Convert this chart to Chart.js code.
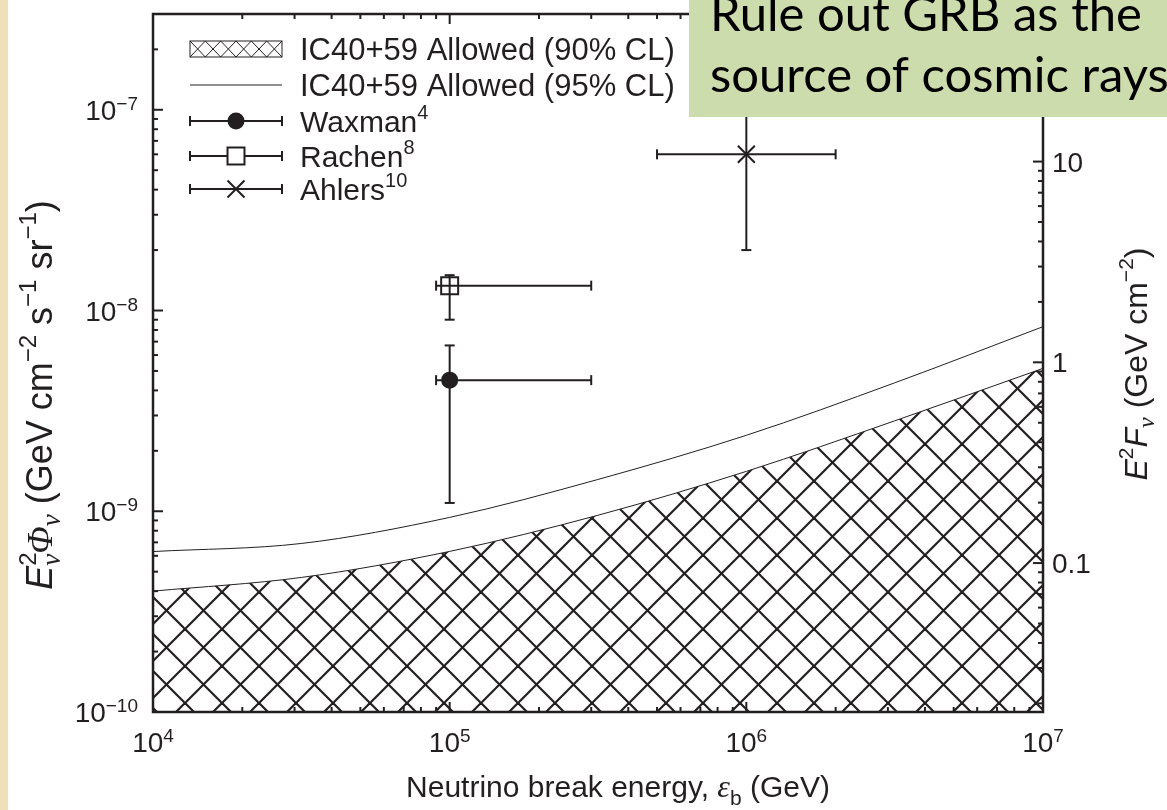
<!DOCTYPE html>
<html>
<head>
<meta charset="utf-8">
<script src="https://cdn.jsdelivr.net/npm/chart.js@4.4.0/dist/chart.umd.min.js"></script>
<style>
  html, body { margin: 0; padding: 0; width: 1167px; height: 810px; overflow: hidden; background: #efe0bc; }
  #paper { position: absolute; left: 8px; top: 0; width: 1159px; height: 810px; background: #fff; }
  #plot { position: absolute; left: 0; top: 0; }
</style>
</head>
<body>
<div id="paper"></div>
<canvas id="plot" width="1167" height="810"></canvas>
<script>
// IceCube limit curves (E^2 Phi, GeV cm^-2 s^-1 sr^-1) vs neutrino break energy (GeV)
const breakEnergy = [1e4, 3.16e4, 1e5, 3.16e5, 1e6, 3.16e6, 1e7];
const allowed90 = [4.0e-10, 4.68e-10, 6.31e-10, 9.55e-10, 1.58e-9, 2.82e-9, 5.15e-9];
const allowed95 = [6.3e-10, 6.91e-10, 9.32e-10, 1.44e-9, 2.39e-9, 4.36e-9, 8.31e-9];

// model predictions with error bars
const models = ['Waxman', 'Rachen', 'Ahlers'];
const modelRefs = ['4', '8', '10'];
const modelE = [1e5, 1e5, 1e6];
const modelELow = [9e4, 9e4, 5e5];
const modelEHigh = [3e5, 3e5, 2e6];
const modelFlux = [4.5e-9, 1.33e-8, 6e-8];
const modelFluxLow = [1.1e-9, 9e-9, 2e-8];
const modelFluxHigh = [6.7e-9, 1.5e-8, 1.8e-7];

// axis ticks
const xTickExp = [4, 5, 6, 7];
const yTickExp = [-10, -9, -8, -7];
const rightTicks = [0.1, 1, 10];
const rightTickLabels = ['0.1', '1', '10'];
const rightPerLeft = 1 / 5.52e-9; // E^2 F scale factor

const ink = '#231f20';
const sans = '"Liberation Sans", Arial, sans-serif';
const serif = '"Liberation Serif", "DejaVu Serif", serif';

// cross-hatch pattern
function hatch(size, lw) {
  const c = document.createElement('canvas');
  c.width = size; c.height = size;
  const g = c.getContext('2d');
  g.strokeStyle = ink; g.lineWidth = lw;
  for (let k = -1; k <= 1; k++) {
    g.beginPath(); g.moveTo(-2, -2 + k * size); g.lineTo(size + 2, size + 2 + k * size); g.stroke();
    g.beginPath(); g.moveTo(-2, size + 2 + k * size); g.lineTo(size + 2, -2 + k * size); g.stroke();
  }
  return c;
}
const ctx = document.getElementById('plot').getContext('2d');
const hatchFill = ctx.createPattern(hatch(37, 2.2), 'repeat');

const markerStyles = [
  { pointStyle: 'circle', pointRadius: 7.5, pointBackgroundColor: ink },
  { pointStyle: 'rect', pointRadius: 12, pointBackgroundColor: 'rgba(0,0,0,0)' },
  { pointStyle: 'crossRot', pointRadius: 12, pointBackgroundColor: ink }
];

const datasets = [];
models.forEach((name, i) => {
  datasets.push(Object.assign({
    type: 'line', label: name, showLine: false,
    data: [{ x: modelE[i], y: modelFlux[i] }],
    pointBorderColor: ink, pointBorderWidth: 2
  }, markerStyles[i]));
});
models.forEach((name, i) => {
  datasets.push({
    type: 'line', label: name + ' dE',
    data: [{ x: modelELow[i], y: modelFlux[i] }, { x: modelEHigh[i], y: modelFlux[i] }],
    borderColor: ink, borderWidth: 2,
    pointStyle: 'line', pointRadius: 5, pointRotation: 90,
    pointBorderColor: ink, pointBorderWidth: 2
  });
  datasets.push({
    type: 'line', label: name + ' dF',
    data: [{ x: modelE[i], y: modelFluxLow[i] }, { x: modelE[i], y: modelFluxHigh[i] }],
    borderColor: ink, borderWidth: 2,
    pointStyle: 'line', pointRadius: 5, pointRotation: 0,
    pointBorderColor: ink, pointBorderWidth: 2
  });
});
datasets.push({
  type: 'line', label: 'IC40+59 Allowed (95% CL)',
  data: breakEnergy.map((e, i) => ({ x: e, y: allowed95[i] })),
  borderColor: ink, borderWidth: 1, pointRadius: 0, cubicInterpolationMode: 'monotone'
});
datasets.push({
  type: 'line', label: 'IC40+59 Allowed (90% CL)',
  data: breakEnergy.map((e, i) => ({ x: e, y: allowed90[i] })),
  borderColor: ink, borderWidth: 1, pointRadius: 0, cubicInterpolationMode: 'monotone',
  fill: 'start', backgroundColor: hatchFill
});

// text runs with super/subscripts
function runs(c, parts, x, y, align) {
  let w = 0;
  parts.forEach(p => { c.font = p.font; p.w = c.measureText(p.t).width; if (p.adv !== 0) w += p.w; });
  let cx = align === 'center' ? x - w / 2 : align === 'right' ? x - w : x;
  c.textAlign = 'left'; c.textBaseline = 'alphabetic';
  parts.forEach(p => { c.font = p.font; c.fillText(p.t, cx, y + (p.dy || 0)); if (p.adv !== 0) cx += p.w; });
}
const f = (s, style) => (style ? style + ' ' : '') + s + 'px ' + sans;
const fs = (s) => 'italic ' + s + 'px ' + serif;
function pow(exp) {
  return [{ t: '10', font: f(28) }, { t: String(exp).replace('-', '\u2212'), font: f(19), dy: -10 }];
}

const decor = {
  id: 'decor',
  afterDraw(chart) {
    const c = chart.ctx, a = chart.chartArea, sx = chart.scales.x, sy = chart.scales.y, sr = chart.scales.y2;
    c.save();
    c.strokeStyle = ink; c.fillStyle = ink; c.lineWidth = 2;
    const seg = (x1, y1, x2, y2) => { c.beginPath(); c.moveTo(x1, y1); c.lineTo(x2, y2); c.stroke(); };
    // x ticks, bottom and top
    for (let e = 4; e <= 7; e++) for (let m = 1; m <= 9; m++) {
      const v = m * Math.pow(10, e);
      if (v > sx.max) break;
      const px = sx.getPixelForValue(v), len = m === 1 ? 10 : 5;
      seg(px, a.bottom, px, a.bottom - len); seg(px, a.top, px, a.top + len);
    }
    // left ticks
    for (let e = -10; e <= -7; e++) for (let m = 1; m <= 9; m++) {
      const v = m * Math.pow(10, e);
      if (v > sy.max * 1.0001) break;
      const py = sy.getPixelForValue(v), len = m === 1 ? 10 : 5;
      seg(a.left, py, a.left + len, py);
    }
    // right ticks
    for (let e = -2; e <= 1; e++) for (let m = 1; m <= 9; m++) {
      const v = m * Math.pow(10, e);
      if (v < sr.min || v > sr.max) continue;
      const py = sr.getPixelForValue(v), len = m === 1 ? 10 : 5;
      seg(a.right, py, a.right - len, py);
    }
    c.lineWidth = 2.5;
    c.strokeRect(a.left, a.top, a.right - a.left, a.bottom - a.top);

    // tick labels
    xTickExp.forEach(e => runs(c, pow(e), sx.getPixelForValue(Math.pow(10, e)), a.bottom + 40, 'center'));
    yTickExp.forEach(e => runs(c, pow(e), a.left - 15, sy.getPixelForValue(Math.pow(10, e)) + 10, 'right'));
    rightTicks.forEach((v, i) => runs(c, [{ t: rightTickLabels[i], font: f(28) }], a.right + 9, sr.getPixelForValue(v) + 10, 'left'));

    // axis titles
    runs(c, [
      { t: 'Neutrino break energy, ', font: f(30) },
      { t: '\u03b5', font: fs(32) },
      { t: 'b', font: f(21), dy: 8 },
      { t: ' (GeV)', font: f(30) }
    ], 618, 797, 'center');

    c.save();
    c.translate(52, 395); c.rotate(-Math.PI / 2);
    runs(c, [
      { t: 'E', font: f(36, 'italic') },
      { t: '2', font: f(24), dy: -16, adv: 0 },
      { t: '\u03bd', font: fs(27), dy: 8 },
      { t: '\u03a6', font: fs(36) },
      { t: '\u03bd', font: fs(27), dy: 8 },
      { t: ' (GeV cm', font: f(36) },
      { t: '\u22122', font: f(24), dy: -16 },
      { t: ' s', font: f(36) },
      { t: '\u22121', font: f(24), dy: -16 },
      { t: ' sr', font: f(36) },
      { t: '\u22121', font: f(24), dy: -16 },
      { t: ')', font: f(36) }
    ], 0, 0, 'center');
    c.restore();

    c.save();
    c.translate(1147, 364); c.rotate(-Math.PI / 2);
    runs(c, [
      { t: 'E', font: f(32, 'italic') },
      { t: '2', font: f(21), dy: -14 },
      { t: 'F', font: f(32, 'italic') },
      { t: '\u03bd', font: fs(24), dy: 7 },
      { t: ' (GeV cm', font: f(32) },
      { t: '\u22122', font: f(21), dy: -14 },
      { t: ')', font: f(32) }
    ], 0, 0, 'center');
    c.restore();

    // legend
    const lx0 = 190, lx1 = 282, lm = 236, tx = 300;
    const rows = [49, 85, 121, 156, 189];
    // hatched box
    c.save();
    c.beginPath(); c.rect(lx0, rows[0] - 8, lx1 - lx0, 16); c.clip();
    c.lineWidth = 1;
    const cell = (lx1 - lx0) / 6;
    for (let k = 0; k < 6; k++) {
      const x0 = lx0 + k * cell;
      seg(x0, rows[0] - 8, x0 + cell, rows[0] + 8);
      seg(x0, rows[0] + 8, x0 + cell, rows[0] - 8);
    }
    c.restore();
    c.lineWidth = 1;
    c.strokeRect(lx0, rows[0] - 8, lx1 - lx0, 16);
    seg(lx0, rows[1], lx1, rows[1]);
    c.fillStyle = ink;
    runs(c, [{ t: 'IC40+59 Allowed (90% CL)', font: f(31) }], tx, rows[0] + 11, 'left');
    runs(c, [{ t: 'IC40+59 Allowed (95% CL)', font: f(31) }], tx, rows[1] + 11, 'left');
    models.forEach((name, i) => {
      const y = rows[i + 2];
      c.lineWidth = 2;
      seg(lx0, y, lx1, y); seg(lx0, y - 5, lx0, y + 5); seg(lx1, y - 5, lx1, y + 5);
      const st = markerStyles[i];
      c.fillStyle = st.pointBackgroundColor === ink ? ink : '#fff';
      Chart.helpers.drawPoint(c, { pointStyle: st.pointStyle, radius: st.pointRadius, borderWidth: 2, rotation: 0 }, lm, y);
      c.fillStyle = ink;
      runs(c, [{ t: name, font: f(30) }, { t: modelRefs[i], font: f(20), dy: -13 }], tx, y + 11, 'left');
    });

    // note box
    c.fillStyle = '#cddcac';
    c.fillRect(689, 0, 480, 117);
    c.fillStyle = '#000';
    c.font = '40px Lato';
    const size = 40 * 432 / c.measureText('Rule out GRB as the').width;
    runs(c, [{ t: 'Rule out GRB as the', font: size + 'px Lato' }], 710, 31, 'left');
    runs(c, [{ t: 'source of cosmic rays', font: size + 'px Lato' }], 710, 92, 'left');
    c.restore();
  }
};

const noFit = (s) => { s.width = 0; s.height = 0; };
new Chart(ctx, {
  data: { datasets: datasets },
  options: {
    responsive: false,
    animation: false,
    layout: { padding: { left: 153, right: 124, top: 12, bottom: 98 } },
    plugins: { legend: { display: false }, tooltip: { enabled: false } },
    scales: {
      x: { type: 'logarithmic', min: 1e4, max: 1e7, ticks: { display: false }, grid: { display: false }, border: { display: false }, afterFit: noFit },
      y: { type: 'logarithmic', min: 1e-10, max: 3e-7, ticks: { display: false }, grid: { display: false }, border: { display: false }, afterFit: noFit },
      y2: { type: 'logarithmic', position: 'right', min: 1e-10 * rightPerLeft, max: 3e-7 * rightPerLeft, ticks: { display: false }, grid: { display: false }, border: { display: false }, afterFit: noFit }
    }
  },
  plugins: [decor]
});
</script>
</body>
</html>
